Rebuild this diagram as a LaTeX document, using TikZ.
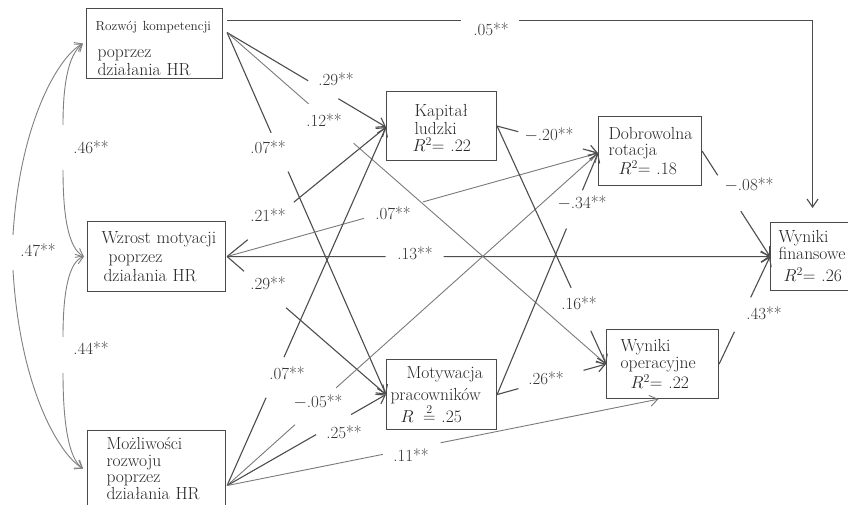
\documentclass[tikz,border=0pt]{standalone}
\usepackage{fontspec}
\usetikzlibrary{arrows.meta,calc}
\definecolor{boxc}{HTML}{4A4A4A}
\definecolor{txtc}{HTML}{262626}
\definecolor{linec}{HTML}{4D4D4D}
\definecolor{lightc}{HTML}{7A7A7A}
\definecolor{curvec}{HTML}{808080}
\definecolor{labc}{HTML}{333333}
\newcommand\gapln[5][]{\draw[conn,#1] (#2) -- ($(#2)!#4!(#3)$) ($(#2)!#5!(#3)$) -- (#3);}
\begin{document}
\begin{tikzpicture}[x=1pt,y=-1pt,
  box/.style={draw=boxc, line width=1.1pt, rectangle, inner sep=0pt, anchor=north west,
    align=left, text=txtc, font=\fontsize{17.5}{18}\selectfont},
  conn/.style={draw=linec, line width=1.1pt, -{Straight Barb[length=8pt,width=11pt]}},
  light/.style={draw=lightc, line width=0.9pt},
  curv/.style={draw=curvec, line width=0.9pt, -{Straight Barb[length=7pt,width=10pt]}},
  lab/.style={font=\fontsize{17}{18}\selectfont, text=labc, inner sep=0pt},
]
\useasboundingbox (0,0) rectangle (848,504);
\fill[white] (0,0) rectangle (848,504);
\clip (0,0) rectangle (848,504);

% boxes
\node[box, minimum width=136pt, minimum height=70pt, text width=118pt] (R1) at (86,8)
  {\rule{0pt}{19pt}\mbox{\fontsize{13.2}{14}\selectfont Rozwój kompetencji}\\[9pt]\hspace*{2pt}\mbox{poprzez}\\\hspace*{2pt}\mbox{działania HR}};
\node[box, minimum width=138pt, minimum height=70pt, text width=110pt, font=\fontsize{17.5}{19}\selectfont] (W) at (87,221)
  {\mbox{Wzrost motyacji}\\\hspace*{7pt}\mbox{poprzez}\\\hspace*{2pt}\mbox{działania HR}};
\node[box, minimum width=138pt, minimum height=76pt, text width=100pt, font=\fontsize{17.5}{16.5}\selectfont] (M) at (87,430)
  {\mbox{Możliwości}\\\mbox{rozwoju}\\\mbox{poprzez}\\\mbox{działania HR}};
\node[box, minimum width=110pt, minimum height=69pt, text width=54pt, font=\fontsize{17.5}{17.5}\selectfont] (K) at (386,91)
  {\rule{0pt}{16pt}\mbox{Kapitał}\\\mbox{ludzki}\\\hspace*{-2pt}\mbox{$R^{2}$= .22}};
\node[box, minimum width=103pt, minimum height=69pt, text width=83pt, font=\fontsize{17.5}{16.5}\selectfont] (D) at (598,116)
  {\mbox{Dobrowolna}\\\mbox{rotacja}\\\hspace*{10pt}\mbox{$R^{2}$= .18}};
\node[box, minimum width=110pt, minimum height=68pt, text width=94pt, font=\fontsize{17.5}{17}\selectfont] (F) at (770,222)
  {\mbox{Wyniki}\\\mbox{finansowe}\\[5pt]\hspace*{5pt}\mbox{$R^{2}$= .26}};
\node[box, minimum width=112pt, minimum height=69pt, text width=84pt, font=\fontsize{17.5}{17}\selectfont] (O) at (606,329)
  {\mbox{Wyniki}\\\mbox{operacyjne}\\[2pt]\hspace*{10pt}\mbox{$R^{2}$= .22}};
\node[box, minimum width=110pt, minimum height=70pt, text width=102pt, font=\fontsize{17.5}{19}\selectfont] (MP) at (386,359)
  {\hspace*{16pt}\mbox{Motywacja}\\[3pt]\mbox{pracowników}\\\hspace*{10pt}\mbox{$R\;\stackrel{2}{=}$ .25}};

% ports
\coordinate (R1a) at ([xshift=4pt,yshift=11pt]R1.east);
\coordinate (R1b) at ([xshift=4pt,yshift=23pt]R1.east);
\coordinate (R1w) at ([xshift=-3pt]R1.west);
\coordinate (Wa) at ([xshift=1pt]W.east);
\coordinate (Ww) at ([xshift=-3pt]W.west);
\coordinate (Ma) at ([xshift=1pt,yshift=-17pt]M.east);
\coordinate (Mw) at ([xshift=-4pt]M.west);
\coordinate (Kin) at ([yshift=-1pt]K.west);
\coordinate (Din) at ([yshift=-2pt]D.west);
\coordinate (Ftop) at ([xshift=-13pt]F.north);
\coordinate (Obot) at ([xshift=-4pt]O.south);

% left covariance curves (each split by its label)
\draw[curv] (13,235) .. controls (20,120) and (60,55) .. (R1w);
\draw[curv] (13,270) .. controls (20,390) and (60,455) .. (Mw);
\draw[curv] (63,125) .. controls (63,85) and (68,55) .. (R1w);
\draw[curv] (63,170) .. controls (63,215) and (68,248) .. (Ww);
\draw[curv] (63,337) .. controls (63,295) and (68,262) .. (Ww);
\draw[curv] (63,373) .. controls (63,420) and (68,458) .. (Mw);

% structural paths
\draw[conn, shorten >=14pt] (R1b) -- ++(234,0) ++(58,0) -| (Ftop);
\gapln{R1a}{Kin}{0.51}{0.70}
\gapln[light]{R1a}{O.west}{0.215}{0.334}
\gapln{R1a}{MP.west}{0.277}{0.384}

\gapln{Wa}{Kin}{0.13}{0.42}
\gapln[light]{Wa}{Din}{0.369}{0.528}
\gapln{Wa}{F.west}{0.292}{0.399}
\gapln{Wa}{MP.west}{0.107}{0.371}

\gapln{Ma}{Kin}{0.245}{0.358}
\gapln[light]{Ma}{Din}{0.183}{0.294}
\gapln{Ma}{MP.west}{0.56}{0.78}
\gapln[light]{Ma}{Obot}{0.361}{0.495}

\gapln{K.east}{Din}{0.21}{0.85}
\gapln{K.east}{O.west}{0.68}{0.86}
\gapln{MP.east}{Din}{0.6875}{0.846}
\gapln{MP.east}{O.west}{0.196}{0.794}
\gapln{D.east}{F.west}{0.23}{0.57}
\gapln{O.east}{F.west}{0.30}{0.62}

% labels
\node[lab] (l05) at (491,29) {.05**};
\node[lab] (l29a) at (336,79) {.29**};
\node[lab] (l12) at (324,120) {.12**};
\node[lab] (l07a) at (268,147) {.07**};
\node[lab] (l46) at (91,147) {.46**};
\node[lab] (l21) at (268,215) {.21**};
\node[lab] (l07b) at (393,213) {.07**};
\node[lab] (l13) at (415,253) {.13**};
\node[lab] (l29b) at (268,283) {.29**};
\node[lab] (l47) at (38,250) {.47**};
\node[lab] (l20) at (549,135) {$-$.20**};
\node[lab] (l34) at (582,203) {$-$.34**};
\node[lab] (l08) at (749,185) {$-$.08**};
\node[lab] (l16) at (579,303) {.16**};
\node[lab] (l43) at (764,313) {.43**};
\node[lab] (l44) at (91,348) {.44**};
\node[lab] (l07c) at (287,373) {.07**};
\node[lab] (l05b) at (318,402) {$-$.05**};
\node[lab] (l25) at (344,432) {.25**};
\node[lab] (l11) at (411,455) {.11**};
\node[lab] (l26) at (546,378) {.26**};
\end{tikzpicture}
\end{document}
